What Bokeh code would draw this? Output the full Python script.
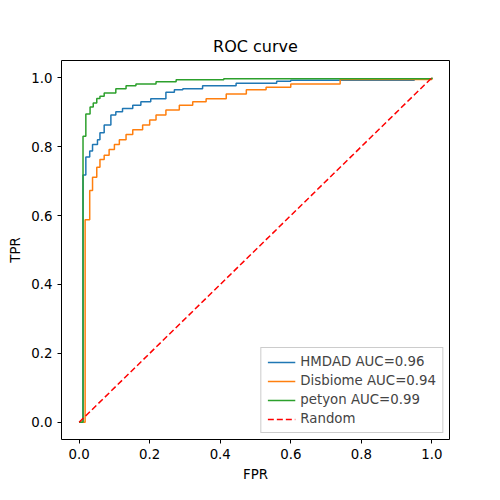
from bokeh.plotting import figure
from bokeh.models import Range1d, FixedTicker, Legend, LegendItem
from bokeh.embed import file_html
from bokeh.resources import INLINE

hmdad_fpr = [0, 0.011, 0.019, 0.03, 0.038, 0.052, 0.059, 0.071, 0.09, 0.104, 0.123, 0.152, 0.175, 0.203,
             0.246, 0.27, 0.294, 0.35, 0.445, 0.56, 0.6, 0.95, 1.0]
hmdad_tpr = [0, 0.718, 0.77, 0.787, 0.806, 0.82, 0.84, 0.863, 0.892, 0.901, 0.911, 0.92, 0.93, 0.939,
             0.958, 0.965, 0.968, 0.977, 0.984, 0.99, 0.993, 0.997, 1.0]
disb_fpr = [0, 0.017, 0.03, 0.038, 0.05, 0.059, 0.071, 0.085, 0.1, 0.114, 0.133, 0.152, 0.18, 0.2, 0.218,
            0.246, 0.284, 0.322, 0.36, 0.417, 0.474, 0.53, 0.6, 0.74, 1.0]
disb_tpr = [0, 0.588, 0.673, 0.711, 0.74, 0.763, 0.775, 0.792, 0.806, 0.82, 0.835, 0.849, 0.863, 0.877,
            0.892, 0.906, 0.92, 0.93, 0.939, 0.953, 0.965, 0.972, 0.982, 0.995, 1.0]
pet_fpr = [0, 0.011, 0.019, 0.031, 0.04, 0.05, 0.059, 0.071, 0.104, 0.133, 0.161, 0.218, 0.275, 0.41, 1.0]
pet_tpr = [0, 0.83, 0.895, 0.915, 0.927, 0.94, 0.946, 0.956, 0.968, 0.977, 0.982, 0.988, 0.994, 0.997, 1.0]
ticks = [0, 0.2, 0.4, 0.6, 0.8, 1.0]
tick_labels = ["0.0", "0.2", "0.4", "0.6", "0.8", "1.0"]
labels = ["HMDAD AUC=0.96", "Disbiome AUC=0.94", "petyon AUC=0.99", "Random"]

p = figure(width=484, height=484, output_backend="svg", toolbar_location=None,
           x_range=Range1d(-0.05, 1.05), y_range=Range1d(-0.05, 1.05),
           min_border_left=61, min_border_right=35, min_border_top=60, min_border_bottom=40,
           title="ROC curve")
p.title.align = "center"
p.title.text_font = "DejaVu Sans"
p.title.text_font_size = "12pt"
p.title.text_font_style = "normal"
p.title.text_color = "black"
p.grid.visible = False
p.outline_line_color = "black"
for ax in (p.xaxis, p.yaxis):
    ax.ticker = FixedTicker(ticks=ticks)
    ax.major_label_overrides = dict(zip(ticks, tick_labels))
    ax.major_label_text_font = "DejaVu Sans"
    ax.major_label_text_font_size = "10pt"
    ax.major_label_text_color = "black"
    ax.axis_label_text_font = "DejaVu Sans"
    ax.axis_label_text_font_size = "10pt"
    ax.axis_label_text_font_style = "normal"
    ax.axis_label_text_color = "black"
    ax.minor_tick_line_color = None
    ax.major_tick_in = 0
    ax.major_tick_out = 4
    ax.axis_line_color = None
p.xaxis.axis_label = "FPR"
p.yaxis.axis_label = "TPR"

r1 = p.step(hmdad_fpr, hmdad_tpr, mode="after", color="#1f77b4", line_width=1.5)
r2 = p.step(disb_fpr, disb_tpr, mode="after", color="#ff7f0e", line_width=1.5)
r3 = p.step(pet_fpr, pet_tpr, mode="after", color="#2ca02c", line_width=1.5)
r4 = p.line([0, 1], [0, 1], color="red", line_dash="6 3", line_width=1.5)

legend = Legend(items=[LegendItem(label=l, renderers=[r]) for l, r in zip(labels, [r1, r2, r3, r4])],
                location="bottom_right", label_text_font="DejaVu Sans", label_text_font_size="10pt",
                border_line_color="#cccccc", border_line_alpha=1, glyph_width=28, glyph_height=14,
                label_height=14, spacing=4, padding=6, margin=6)
p.add_layout(legend)

open("out.html", "w").write(file_html(p, INLINE))
